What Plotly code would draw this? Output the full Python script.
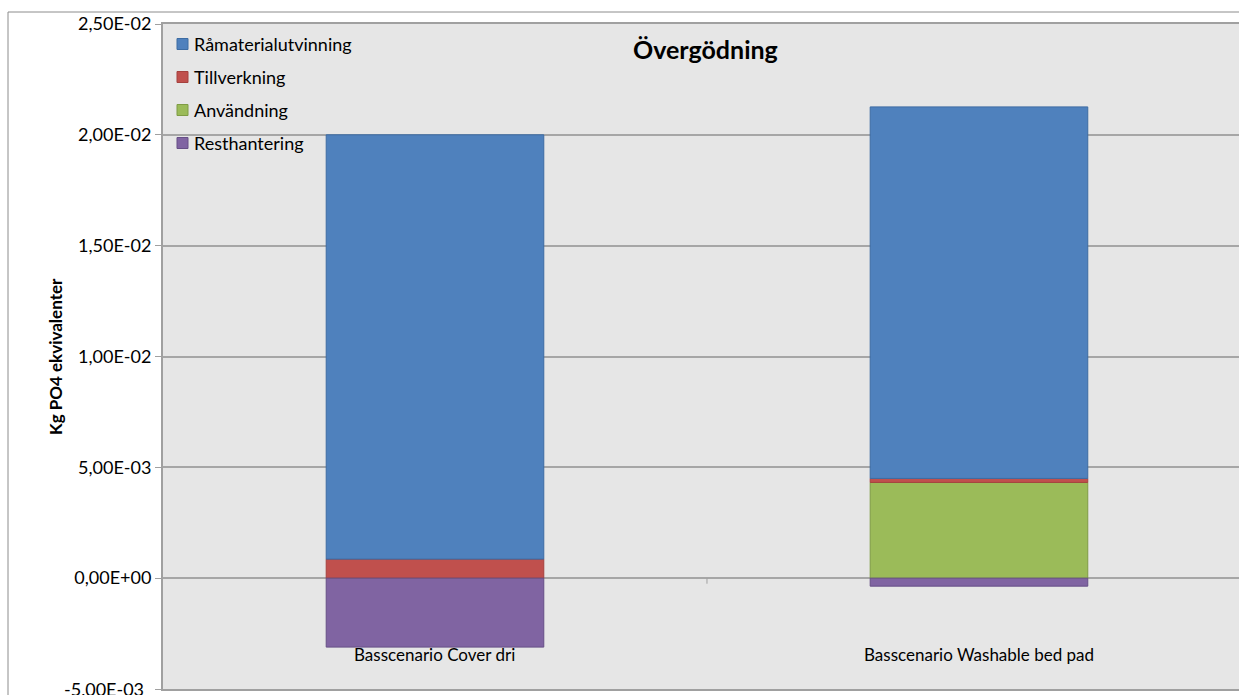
import plotly.graph_objects as go

categories = ["Basscenario Cover dri", "Basscenario Washable bed pad"]
series_names = ["Råmaterialutvinning", "Tillverkning", "Användning", "Resthantering"]
ramaterial = [0.01914, 0.01676]
tillverkning = [0.00086, 0.00018]
anvandning = [0.0, 0.00432]
resthantering = [-0.00311, -0.00036]
tick_vals = [-0.005, 0.0, 0.005, 0.01, 0.015, 0.02, 0.025]
tick_labels = ["-5,00E-03", "0,00E+00", "5,00E-03", "1,00E-02", "1,50E-02", "2,00E-02", "2,50E-02"]

fills = ["#4f81bd", "#c0504d", "#9bbb59", "#8064a2"]
edges = ["#3d6ca3", "#a5413e", "#7f9c45", "#664f86"]
values = [ramaterial, tillverkning, anvandning, resthantering]

FONT = "Lato, Open Sans, sans-serif"
PX_L, PX_R, PX_T, PX_B = 163, 1239, 24, 689
PW, PH = PX_R - PX_L, PX_B - PX_T


def px(xp):
    return (xp - PX_L) / PW


def py(yp):
    return (PX_B - yp) / PH


fig = go.Figure()
x_idx = list(range(len(categories)))
order = [2, 1, 0, 3]
for i in order:
    fig.add_trace(go.Bar(
        x=x_idx, y=values[i], name=series_names[i],
        marker=dict(color=fills[i], line=dict(color=edges[i], width=1)),
        width=0.4,
    ))

fig.update_layout(
    barmode="relative",
    width=1239, height=695,
    margin=dict(l=PX_L, r=0, t=PX_T, b=695 - PX_B),
    paper_bgcolor="white",
    plot_bgcolor="#e6e6e6",
    font=dict(family=FONT, size=18, color="#000000"),
    showlegend=False,
)

for k, name in enumerate(series_names):
    yc = 44 + 33 * k
    fig.add_shape(type="rect", xref="paper", yref="paper",
                  x0=px(177), x1=px(188), y0=py(yc + 5.5), y1=py(yc - 5.5),
                  fillcolor=fills[k], line=dict(color=edges[k], width=1))
    fig.add_annotation(xref="paper", yref="paper", x=px(192), y=py(yc),
                       text=name, showarrow=False, xanchor="left", yanchor="middle",
                       font=dict(size=18, family=FONT))

fig.add_annotation(xref="paper", yref="paper", x=px(705), y=py(49),
                   text="<b>Övergödning</b>", showarrow=False, xanchor="center", yanchor="middle",
                   font=dict(size=25, family=FONT))

for i, c in enumerate(categories):
    fig.add_annotation(x=i, y=-0.00345, text=c, showarrow=False, xanchor="center",
                       yanchor="middle", font=dict(size=17, family=FONT))

fig.add_annotation(xref="paper", yref="paper", x=px(56), y=py(357),
                   text="<b>Kg PO4 ekvivalenter</b>", textangle=-90, showarrow=False,
                   xanchor="center", yanchor="middle", font=dict(size=17, family=FONT))

# bottom tick label, partly cut by the lower edge as in the reference
fig.add_annotation(xref="paper", yref="y", x=px(146), y=tick_vals[0], text=tick_labels[0],
                   showarrow=False, xanchor="right", yanchor="middle",
                   font=dict(size=18, family=FONT))

fig.add_shape(type="rect", xref="paper", yref="paper",
              x0=px(8), x1=1.05, y0=-0.05, y1=py(12),
              line=dict(color="#8c8c8c", width=1), fillcolor="rgba(0,0,0,0)", layer="below")

fig.add_shape(type="line", xref="x", yref="y", x0=0.5, x1=0.5, y0=0, y1=-0.00025,
              line=dict(color="#a0a0a0", width=1))

fig.update_xaxes(range=[-0.5, 1.478], showticklabels=False, showgrid=False,
                 zeroline=False, showline=True, mirror=True, linecolor="#a0a0a0", linewidth=2,
                 ticks="")
fig.update_yaxes(range=[-0.005, 0.025], tickvals=tick_vals,
                 ticktext=[""] + tick_labels[1:],
                 showgrid=True, gridcolor="#a6a6a6", gridwidth=2,
                 zeroline=True, zerolinecolor="#a6a6a6", zerolinewidth=2,
                 showline=True, mirror=False, linecolor="#a0a0a0", linewidth=2,
                 ticks="outside", ticklen=6, tickcolor="#a0a0a0",
                 tickfont=dict(size=18, family=FONT))

fig.write_html("out.html")
